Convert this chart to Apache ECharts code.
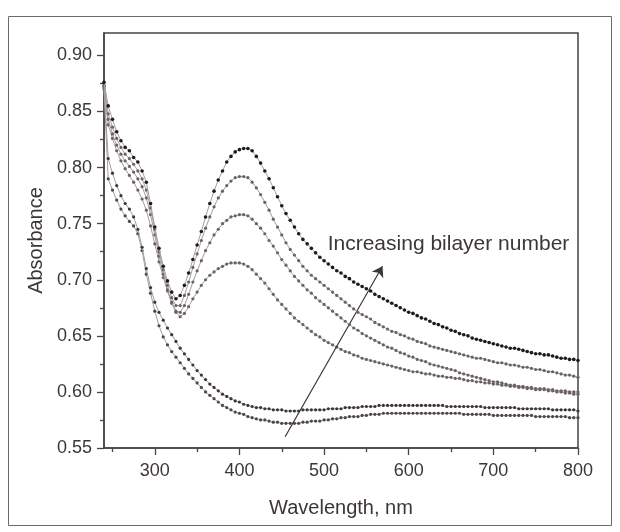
<!DOCTYPE html>
<html><head><meta charset="utf-8">
<script src="https://cdn.jsdelivr.net/npm/echarts@6/dist/echarts.min.js"></script>
<style>html,body{margin:0;padding:0;background:#fff}#c{width:620px;height:532px}</style>
</head><body><div id="c"></div>
<script>
// ---- data ----
const wavelengths = [240,245,250,255,260,265,270,275,280,285,
290,295,300,305,310,315,320,325,330,335,
340,345,350,355,360,365,370,375,380,385,
390,395,400,405,410,415,420,425,430,435,
440,445,450,455,460,465,470,475,480,485,
490,495,500,505,510,515,520,525,530,535,
540,545,550,555,560,565,570,575,580,585,
590,595,600,605,610,615,620,625,630,635,
640,645,650,655,660,665,670,675,680,685,
690,695,700,705,710,715,720,725,730,735,
740,745,750,755,760,765,770,775,780,785,
790,795,800];

const film6 = [0.876,0.855,0.843,0.832,0.824,0.818,0.815,0.809,0.805,0.797,
0.787,0.768,0.747,0.728,0.712,0.699,0.689,0.683,0.686,0.695,
0.706,0.718,0.731,0.743,0.756,0.768,0.779,0.789,0.797,0.805,
0.810,0.814,0.816,0.817,0.817,0.815,0.810,0.804,0.797,0.790,
0.782,0.774,0.766,0.759,0.753,0.747,0.741,0.736,0.732,0.728,
0.724,0.720,0.717,0.714,0.711,0.708,0.706,0.703,0.701,0.698,
0.696,0.694,0.692,0.690,0.687,0.685,0.683,0.681,0.679,0.677,
0.675,0.673,0.671,0.670,0.668,0.666,0.665,0.663,0.661,0.660,
0.658,0.657,0.655,0.654,0.652,0.651,0.650,0.648,0.647,0.646,
0.645,0.644,0.643,0.642,0.641,0.640,0.639,0.639,0.638,0.637,
0.636,0.635,0.634,0.634,0.633,0.633,0.632,0.631,0.630,0.630,
0.629,0.629,0.628];

const film5 = [0.874,0.848,0.836,0.826,0.818,0.812,0.808,0.803,0.797,0.790,
0.780,0.764,0.745,0.725,0.709,0.695,0.684,0.677,0.677,0.686,
0.698,0.711,0.723,0.735,0.746,0.756,0.765,0.773,0.779,0.784,
0.788,0.791,0.792,0.792,0.791,0.787,0.782,0.776,0.769,0.762,
0.754,0.747,0.740,0.733,0.727,0.722,0.717,0.712,0.708,0.704,
0.701,0.698,0.695,0.692,0.689,0.686,0.683,0.680,0.677,0.674,
0.671,0.669,0.667,0.665,0.662,0.660,0.658,0.656,0.654,0.653,
0.651,0.650,0.648,0.647,0.645,0.644,0.643,0.641,0.640,0.639,
0.638,0.637,0.636,0.635,0.634,0.633,0.632,0.631,0.630,0.630,
0.629,0.628,0.627,0.626,0.626,0.625,0.624,0.624,0.623,0.622,
0.622,0.621,0.620,0.620,0.619,0.618,0.618,0.617,0.616,0.615,
0.615,0.614,0.613];

const film4 = [0.873,0.843,0.830,0.820,0.812,0.806,0.801,0.796,0.790,0.783,
0.773,0.758,0.740,0.721,0.705,0.691,0.680,0.672,0.671,0.677,
0.687,0.698,0.708,0.717,0.726,0.733,0.740,0.745,0.750,0.753,
0.756,0.757,0.758,0.758,0.757,0.754,0.750,0.746,0.741,0.735,
0.730,0.724,0.718,0.713,0.708,0.703,0.699,0.695,0.691,0.688,
0.684,0.681,0.678,0.675,0.672,0.669,0.666,0.663,0.660,0.657,
0.655,0.652,0.650,0.648,0.646,0.644,0.642,0.640,0.639,0.637,
0.635,0.634,0.632,0.631,0.629,0.628,0.627,0.625,0.624,0.623,
0.622,0.621,0.620,0.619,0.617,0.616,0.615,0.614,0.613,0.612,
0.611,0.610,0.609,0.609,0.608,0.607,0.606,0.606,0.605,0.605,
0.604,0.604,0.603,0.603,0.603,0.602,0.602,0.601,0.601,0.601,
0.600,0.600,0.600];

const film3 = [0.872,0.838,0.826,0.815,0.806,0.799,0.793,0.787,0.780,0.772,
0.762,0.748,0.732,0.716,0.702,0.690,0.679,0.671,0.667,0.670,
0.676,0.683,0.689,0.695,0.700,0.704,0.707,0.710,0.712,0.714,
0.715,0.715,0.715,0.714,0.712,0.709,0.705,0.701,0.697,0.692,
0.687,0.682,0.678,0.674,0.670,0.666,0.663,0.660,0.657,0.654,
0.651,0.649,0.646,0.644,0.642,0.640,0.638,0.636,0.635,0.633,
0.632,0.630,0.629,0.628,0.627,0.626,0.625,0.624,0.623,0.622,
0.621,0.620,0.619,0.618,0.618,0.617,0.616,0.616,0.615,0.614,
0.614,0.613,0.613,0.612,0.612,0.611,0.610,0.610,0.609,0.609,
0.608,0.608,0.607,0.607,0.606,0.606,0.605,0.605,0.604,0.604,
0.603,0.603,0.602,0.602,0.602,0.601,0.601,0.600,0.600,0.599,
0.599,0.598,0.598];

const film2 = [0.872,0.808,0.795,0.784,0.775,0.768,0.763,0.756,0.745,0.729,
0.710,0.693,0.680,0.671,0.664,0.657,0.651,0.645,0.639,0.634,
0.629,0.624,0.619,0.615,0.611,0.607,0.604,0.601,0.598,0.596,
0.594,0.592,0.591,0.589,0.588,0.587,0.586,0.586,0.585,0.585,
0.584,0.584,0.584,0.583,0.583,0.583,0.583,0.584,0.584,0.584,
0.584,0.584,0.584,0.585,0.585,0.585,0.585,0.586,0.586,0.586,
0.586,0.587,0.587,0.587,0.587,0.588,0.588,0.588,0.588,0.588,
0.588,0.588,0.588,0.588,0.588,0.588,0.588,0.588,0.588,0.588,
0.588,0.587,0.587,0.587,0.587,0.587,0.587,0.587,0.587,0.587,
0.586,0.586,0.586,0.586,0.586,0.586,0.586,0.586,0.585,0.585,
0.585,0.585,0.585,0.585,0.585,0.585,0.584,0.584,0.584,0.584,
0.584,0.584,0.583];

const film1 = [0.870,0.790,0.780,0.771,0.763,0.757,0.752,0.748,0.741,0.726,
0.705,0.688,0.672,0.659,0.649,0.642,0.636,0.631,0.626,0.621,
0.616,0.612,0.608,0.604,0.600,0.597,0.594,0.591,0.588,0.586,
0.584,0.582,0.581,0.580,0.578,0.577,0.576,0.575,0.575,0.574,
0.573,0.573,0.572,0.572,0.572,0.572,0.572,0.573,0.573,0.574,
0.574,0.574,0.575,0.575,0.576,0.576,0.577,0.577,0.578,0.578,
0.578,0.579,0.579,0.580,0.580,0.580,0.581,0.581,0.581,0.581,
0.581,0.581,0.581,0.581,0.581,0.581,0.581,0.581,0.581,0.581,
0.581,0.581,0.581,0.581,0.581,0.580,0.580,0.580,0.580,0.580,
0.580,0.580,0.579,0.579,0.579,0.579,0.579,0.579,0.579,0.579,
0.579,0.579,0.578,0.578,0.578,0.578,0.578,0.578,0.578,0.578,
0.577,0.577,0.577];

const xTickLabels = [300,400,500,600,700,800];
const xMinorTicks = [250,350,450,550,650,750];
const yTickLabels = [0.55,0.60,0.65,0.70,0.75,0.80,0.85,0.90];
const yMinorTicks = [0.575,0.625,0.675,0.725,0.775,0.825,0.875];
const annotationText = 'Increasing bilayer number';
const arrowFrom = [454, 0.560];
const arrowTo = [569, 0.712];
const annotationAt = [647, 0.732];

// ---- chart ----
const FONT = '"Liberation Sans", Arial, Helvetica, sans-serif';
const TXT = '#3d3636';
const AX = '#4a4343';
const chart = echarts.init(document.getElementById('c'), null, {renderer:'canvas'});

function curve(vals, dot, size, z) {
  return {
    type:'line', xAxisIndex:0, yAxisIndex:0, z:z,
    data: wavelengths.map((w,i)=>[w, vals[i]]),
    symbol:'circle', symbolSize:size, showSymbol:true, showAllSymbol:true,
    lineStyle:{color:'#a59d9d', width:1},
    itemStyle:{color:dot, borderWidth:0},
    emphasis:{disabled:true}, silent:true
  };
}

const s6 = curve(film6, '#1e1a1a', 3.6, 8);
s6.markLine = {
  silent:true, symbol:['none','arrow'], symbolSize:10, precision:4,
  lineStyle:{color:'#3d3636', width:1.2, type:'solid'},
  itemStyle:{color:'#3d3636'},
  label:{show:false},
  data:[[{coord:arrowFrom},{coord:arrowTo}]]
};
s6.markPoint = {
  silent:true, symbol:'circle', symbolSize:1,
  itemStyle:{color:'rgba(0,0,0,0)'},
  label:{show:true, position:'inside', formatter:annotationText, fontSize:21, color:TXT, fontFamily:FONT},
  data:[{coord:annotationAt}]
};

const option = {
  animation:false,
  backgroundColor:'#ffffff',
  textStyle:{fontFamily:FONT},
  graphic:[{type:'rect', shape:{x:8.5, y:16.5, width:603, height:509}, style:{fill:'none', stroke:'#6e6868', lineWidth:1}, z:-10, silent:true}],
  grid:{left:104, right:42, top:33, bottom:84, show:true, borderColor:AX, borderWidth:1.5, backgroundColor:'transparent'},
  xAxis:[{
    type:'value', min:240, max:800, position:'bottom',
    axisLine:{show:true, onZero:false, lineStyle:{color:AX, width:1.5}},
    axisTick:{show:true, inside:false, length:7, lineStyle:{color:AX, width:1.3}, customValues:xTickLabels},
    axisLabel:{show:true, customValues:xTickLabels, fontSize:18, color:TXT, margin:14, fontFamily:FONT},
    splitLine:{show:false},
    name:'Wavelength, nm', nameLocation:'middle', nameGap:50,
    nameTextStyle:{fontSize:20, color:TXT, fontFamily:FONT}
  },{
    type:'value', min:240, max:800, position:'bottom',
    axisLine:{show:false},
    axisTick:{show:true, inside:false, length:4, lineStyle:{color:AX, width:1.3}, customValues:xMinorTicks},
    axisLabel:{show:false}, splitLine:{show:false}
  }],
  yAxis:[{
    type:'value', min:0.55, max:0.92, position:'left',
    axisLine:{show:true, onZero:false, lineStyle:{color:AX, width:1.5}},
    axisTick:{show:true, inside:false, length:7, lineStyle:{color:AX, width:1.3}, customValues:yTickLabels},
    axisLabel:{show:true, customValues:yTickLabels, formatter:v=>Number(v).toFixed(2), fontSize:18, color:TXT, margin:12, fontFamily:FONT},
    splitLine:{show:false},
    name:'Absorbance', nameLocation:'middle', nameGap:58, nameRotate:90,
    nameTextStyle:{fontSize:20, color:TXT, fontFamily:FONT}
  },{
    type:'value', min:0.55, max:0.92, position:'left',
    axisLine:{show:false},
    axisTick:{show:true, inside:false, length:4, lineStyle:{color:AX, width:1.3}, customValues:yMinorTicks},
    axisLabel:{show:false}, splitLine:{show:false}
  }],
  series:[
    curve(film1, '#4f4646', 3.2, 2),
    curve(film2, '#3e3636', 3.2, 3),
    curve(film3, '#6b6262', 3.2, 4),
    curve(film4, '#6b6262', 3.2, 5),
    curve(film5, '#6b6262', 3.2, 6),
    s6
  ]
};
chart.setOption(option);
</script>
</body></html>
